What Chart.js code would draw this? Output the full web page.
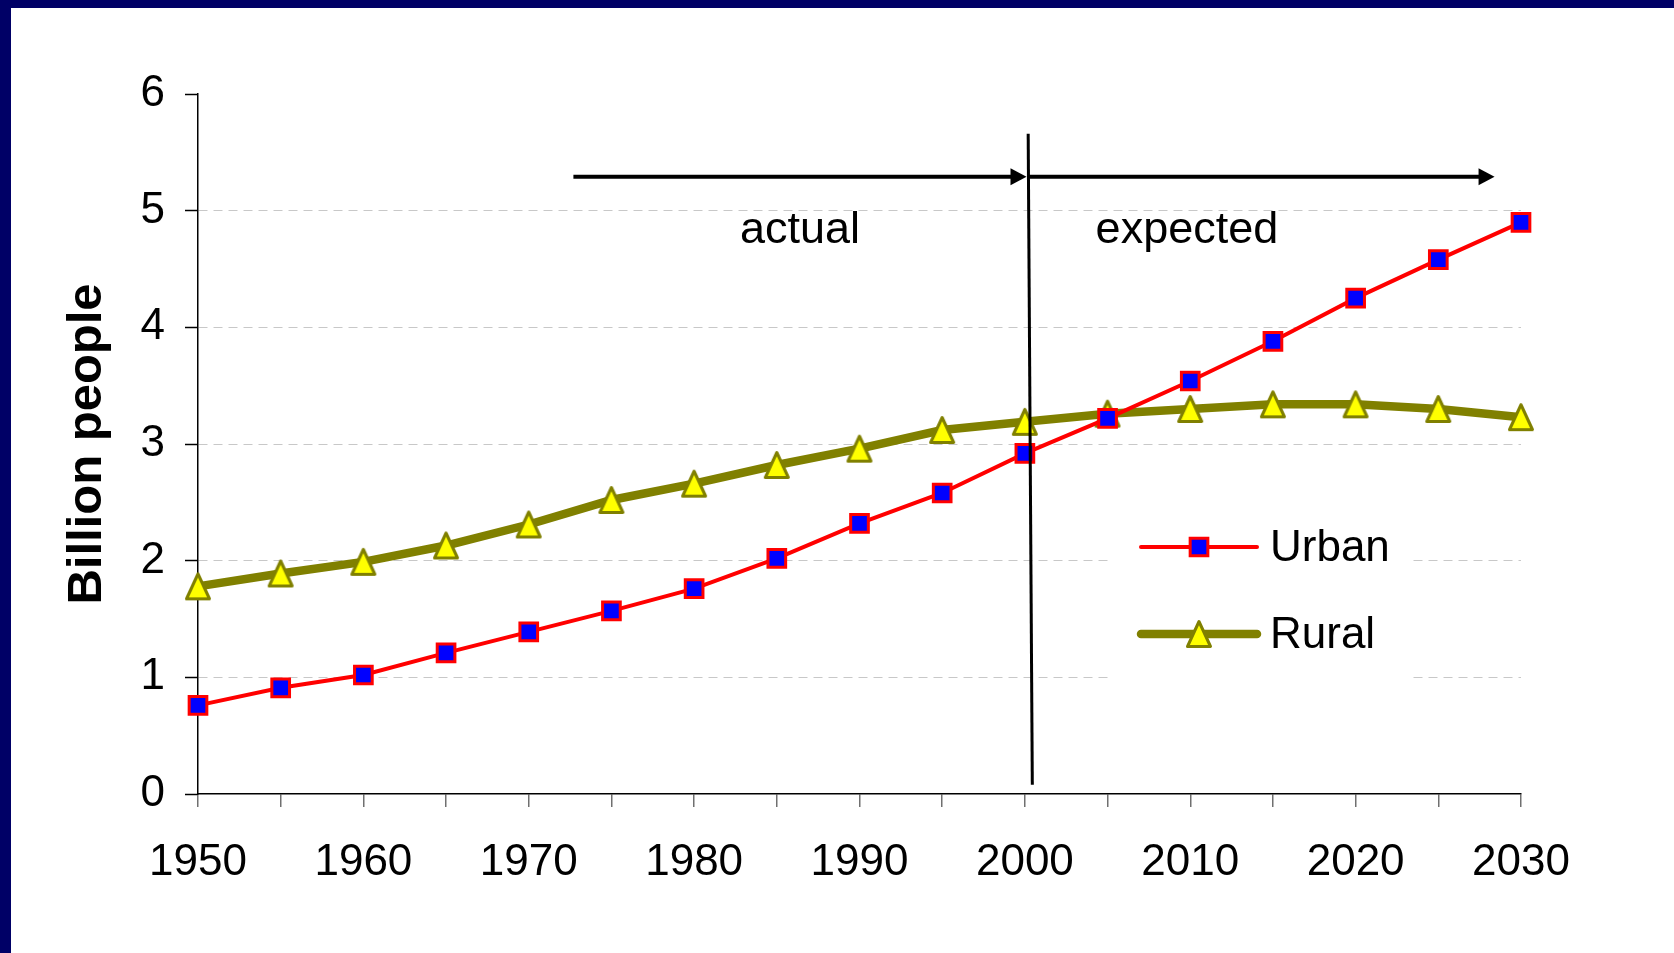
<!DOCTYPE html>
<html>
<head>
<meta charset="utf-8">
<title>Urban and rural population</title>
<script src="https://cdn.jsdelivr.net/npm/chart.js@4.4.1/dist/chart.umd.min.js"></script>
<style>
  html, body { margin: 0; padding: 0; background: #fff; }
  #frame {
    width: 1663px; height: 945px;
    border-top: 8px solid #000066;
    border-left: 11px solid #000066;
    background: #fff;
  }
  #wrap { position: relative; width: 1663px; height: 945px; }
</style>
</head>
<body>
<div id="frame"><div id="wrap"><canvas id="chart"></canvas></div></div>
<script>
// Population in billions, every five years (2005 onward are projections)
const years = [1950, 1955, 1960, 1965, 1970, 1975, 1980, 1985, 1990, 1995, 2000, 2005, 2010, 2015, 2020, 2025, 2030];
const urban = [0.76, 0.91, 1.02, 1.21, 1.39, 1.57, 1.76, 2.02, 2.32, 2.58, 2.92, 3.22, 3.54, 3.88, 4.25, 4.58, 4.90];
const rural = [1.78, 1.89, 1.99, 2.13, 2.31, 2.52, 2.66, 2.82, 2.96, 3.12, 3.19, 3.26, 3.30, 3.34, 3.34, 3.30, 3.23];
const seriesNames = ['Urban', 'Rural'];
const xTickLabels = ['1950', '1960', '1970', '1980', '1990', '2000', '2010', '2020', '2030'];
const yTickLabels = ['0', '1', '2', '3', '4', '5', '6'];
const periodNames = ['actual', 'expected'];

const FONT = '"Liberation Sans", Arial, Helvetica, sans-serif';

// Divider between observed and projected years, plus the two period arrows
const divider = { xTop: 2000.2, xBottom: 2000.45, yTop: 5.66, yBottom: 0.08 };
const arrowY = 5.29;
const arrows = [ { from: 1972.7, to: 2000.1 }, { from: 2000.2, to: 2028.4 } ];
const periodAnchors = [ { x: 1986.4, y: 4.72 }, { x: 2009.8, y: 4.72 } ];

// Triangle marker whose bounding box is centred on the point
function makeTriangle() {
  const c = document.createElement('canvas');
  c.width = 32; c.height = 32;
  const g = c.getContext('2d');
  g.beginPath();
  g.moveTo(16, 3.5);
  g.lineTo(27.5, 28.5);
  g.lineTo(4.5, 28.5);
  g.closePath();
  g.fillStyle = '#ffff00';
  g.fill();
  g.lineWidth = 3;
  g.lineJoin = 'round';
  g.strokeStyle = '#808000';
  g.stroke();
  return c;
}
const triangleMarker = makeTriangle();

const periodsPlugin = {
  id: 'periods',
  afterDatasetsDraw(chart) {
    const { ctx, scales: { x, y } } = chart;
    ctx.save();
    ctx.strokeStyle = '#000';
    ctx.fillStyle = '#000';
    ctx.lineCap = 'butt';

    ctx.lineWidth = 3;
    ctx.beginPath();
    ctx.moveTo(x.getPixelForValue(divider.xTop), y.getPixelForValue(divider.yTop));
    ctx.lineTo(x.getPixelForValue(divider.xBottom), y.getPixelForValue(divider.yBottom));
    ctx.stroke();

    const py = y.getPixelForValue(arrowY);
    arrows.forEach(a => {
      const x0 = x.getPixelForValue(a.from);
      const x1 = x.getPixelForValue(a.to);
      ctx.lineWidth = 4;
      ctx.beginPath();
      ctx.moveTo(x0, py);
      ctx.lineTo(x1 - 12, py);
      ctx.stroke();
      ctx.beginPath();
      ctx.moveTo(x1, py);
      ctx.lineTo(x1 - 16, py - 8.5);
      ctx.lineTo(x1 - 16, py + 8.5);
      ctx.closePath();
      ctx.fill();
    });

    ctx.font = '45px ' + FONT;
    ctx.textAlign = 'center';
    ctx.textBaseline = 'alphabetic';
    periodNames.forEach((name, i) => {
      const p = periodAnchors[i];
      ctx.fillText(name, x.getPixelForValue(p.x), y.getPixelForValue(p.y));
    });
    ctx.restore();
  }
};

// Legend inset in the lower right of the plot area
const insetLegend = {
  id: 'insetLegend',
  afterDatasetsDraw(chart, args, opts) {
    const { ctx } = chart;
    ctx.save();
    ctx.fillStyle = '#fff';
    ctx.fillRect(opts.box.x, opts.box.y, opts.box.w, opts.box.h);
    chart.data.datasets.forEach((ds, i) => {
      const cy = opts.firstY + i * opts.rowGap;
      ctx.strokeStyle = ds.borderColor;
      ctx.lineWidth = ds.borderWidth;
      ctx.lineCap = 'round';
      ctx.beginPath();
      ctx.moveTo(opts.lineX0, cy);
      ctx.lineTo(opts.lineX1, cy);
      ctx.stroke();
      ctx.lineCap = 'butt';
      ctx.fillStyle = ds.pointBackgroundColor;
      ctx.strokeStyle = ds.pointBorderColor;
      ctx.lineWidth = ds.pointBorderWidth;
      Chart.helpers.drawPoint(ctx, {
        pointStyle: ds.pointStyle, radius: ds.pointRadius, rotation: 0, borderWidth: ds.pointBorderWidth
      }, (opts.lineX0 + opts.lineX1) / 2, cy);
      ctx.fillStyle = '#000';
      ctx.font = '44px ' + FONT;
      ctx.textAlign = 'left';
      ctx.textBaseline = 'alphabetic';
      ctx.fillText(ds.label, opts.textX, cy + 14);
    });
    ctx.restore();
  }
};

const toPoints = vals => vals.map((v, i) => ({ x: years[i], y: v }));

new Chart(document.getElementById('chart'), {
  type: 'line',
  data: {
    datasets: [
      {
        label: seriesNames[0],
        data: toPoints(urban),
        borderColor: '#ff0000',
        borderWidth: 4,
        pointStyle: 'rect',
        pointRadius: 12.5,
        pointBackgroundColor: '#0000ff',
        pointBorderColor: '#ff0000',
        pointBorderWidth: 3,
        tension: 0,
        clip: false
      },
      {
        label: seriesNames[1],
        data: toPoints(rural),
        borderColor: '#808000',
        borderWidth: 8.5,
        pointStyle: triangleMarker,
        pointRadius: 14,
        pointBackgroundColor: '#ffff00',
        pointBorderColor: '#808000',
        pointBorderWidth: 3,
        tension: 0,
        clip: false
      }
    ]
  },
  options: {
    responsive: true,
    maintainAspectRatio: false,
    animation: false,
    events: [],
    layout: { padding: { top: 86, right: 153, left: 0, bottom: 0 } },
    plugins: {
      legend: { display: false },
      tooltip: { enabled: false },
      insetLegend: {
        box: { x: 1099, y: 487, w: 301, h: 195 },
        lineX0: 1130, lineX1: 1246,
        firstY: 539, rowGap: 87,
        textX: 1259
      }
    },
    scales: {
      x: {
        type: 'linear',
        min: 1950,
        max: 2030,
        afterFit: s => { s.height = 159; },
        ticks: {
          stepSize: 5,
          autoSkip: false,
          maxRotation: 0,
          padding: 29,
          color: '#000',
          font: { family: FONT, size: 44 },
          callback: v => (xTickLabels.includes(String(v)) ? String(v) : '')
        },
        grid: {
          drawOnChartArea: false,
          drawTicks: true,
          tickLength: 13,
          tickColor: '#707070',
          lineWidth: 1.5
        },
        border: { display: true, color: '#000', width: 1.5 }
      },
      y: {
        min: 0,
        max: 6,
        afterFit: s => { s.width = 187; },
        ticks: {
          stepSize: 1,
          padding: 20,
          color: '#000',
          font: { family: FONT, size: 44 },
          callback: v => yTickLabels[v]
        },
        grid: {
          color: c => (c.tick && (c.tick.value === 0 || c.tick.value === 6) ? 'rgba(0,0,0,0)' : '#c8c8c8'),
          lineWidth: 1,
          tickLength: 13,
          tickColor: '#000',
          tickWidth: 1.5,
          tickBorderDash: []
        },
        border: { display: true, color: '#000', width: 1.5, dash: [9, 6] },
        title: {
          display: true,
          text: 'Billion people',
          color: '#000',
          font: { family: FONT, size: 49, weight: 'bold' },
          padding: { top: 47, bottom: 0 }
        }
      }
    }
  },
  plugins: [periodsPlugin, insetLegend]
});
</script>
</body>
</html>
